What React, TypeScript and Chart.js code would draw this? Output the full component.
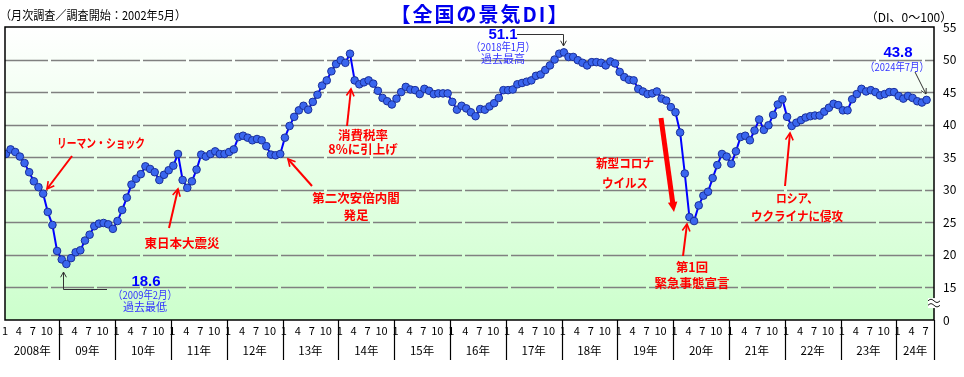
import React, { useEffect, useRef } from 'react';
import { Chart, registerables } from 'chart.js';

Chart.register(...registerables);

// ---- data (TDB 全国の景気DI, monthly, Jan 2008 – Jul 2024) ----
const di2008 = [35.5, 36.2, 35.8, 35.1, 34.1, 32.7, 31.3, 30.4, 29.4, 26.6, 24.6, 20.6];
const di2009 = [19.3, 18.6, 19.5, 20.4, 20.7, 22.2, 23.1, 24.4, 24.8, 24.9, 24.7, 24.0];
const di2010 = [25.2, 26.9, 28.8, 30.8, 31.7, 32.4, 33.6, 33.2, 32.7, 31.5, 32.3, 33.0];
const di2011 = [33.7, 35.5, 31.5, 30.3, 31.3, 33.1, 35.4, 35.1, 35.5, 35.9, 35.5, 35.5];
const di2012 = [35.8, 36.2, 38.1, 38.3, 38.0, 37.6, 37.8, 37.6, 36.7, 35.4, 35.3, 35.5];
const di2013 = [38.0, 39.8, 41.2, 42.2, 42.9, 42.3, 43.5, 44.6, 46.0, 46.8, 48.2, 49.3];
const di2014 = [49.9, 49.5, 50.9, 46.8, 46.2, 46.5, 46.8, 46.3, 45.2, 44.1, 43.6, 43.1];
const di2015 = [44.0, 45.0, 45.8, 45.4, 45.3, 44.7, 45.5, 45.2, 44.7, 44.8, 44.8, 44.8];
const di2016 = [43.5, 42.3, 42.9, 42.5, 41.9, 41.3, 42.4, 42.3, 42.8, 43.3, 44.1, 45.3];
const di2017 = [45.3, 45.4, 46.2, 46.4, 46.6, 46.8, 47.5, 47.7, 48.4, 49.1, 50.0, 50.9];
const di2018 = [51.1, 50.4, 50.4, 49.9, 49.5, 49.1, 49.6, 49.6, 49.5, 49.1, 49.7, 49.4];
const di2019 = [48.1, 47.3, 46.9, 46.8, 45.5, 45.1, 44.7, 44.8, 45.1, 44.0, 43.7, 42.7];
const di2020 = [41.9, 38.8, 32.5, 25.8, 25.2, 27.6, 29.1, 29.7, 31.8, 33.8, 35.5, 35.1];
const di2021 = [34.0, 35.9, 38.1, 38.3, 37.6, 39.1, 40.8, 39.2, 39.9, 41.5, 43.1, 43.9];
const di2022 = [41.2, 39.8, 40.3, 40.7, 41.1, 41.3, 41.4, 41.4, 42.0, 42.6, 43.2, 43.0];
const di2023 = [42.2, 42.2, 43.9, 44.7, 45.5, 45.1, 45.3, 45.0, 44.5, 44.7, 45.0, 45.0];
const di2024 = [44.4, 44.0, 44.4, 44.1, 43.6, 43.4, 43.8];

const yearLabels = ['2008年', '09年', '10年', '11年', '12年', '13年', '14年', '15年', '16年',
  '17年', '18年', '19年', '20年', '21年', '22年', '23年', '24年'];
const monthTickLabels = ['1', '4', '7', '10'];
const monthTickIndex = [0, 3, 6, 9];
const yTickValues = [10, 15, 20, 25, 30, 35, 40, 45, 50, 55];
const yTickLabels = ['0', '15', '20', '25', '30', '35', '40', '45', '50', '55'];
const gridValues = [15, 20, 25, 30, 35, 40, 45, 50];

const allValues = [
  ...di2008, ...di2009, ...di2010, ...di2011, ...di2012, ...di2013, ...di2014, ...di2015,
  ...di2016, ...di2017, ...di2018, ...di2019, ...di2020, ...di2021, ...di2022, ...di2023, ...di2024,
];

const JP = '"Noto Sans CJK JP", "Noto Sans", sans-serif';

function text(ctx: CanvasRenderingContext2D, s: string, cx: number, cy: number, font: string,
  color: string, maxW?: number, align: CanvasTextAlign = 'center', spacing = 0) {
  ctx.save();
  ctx.font = font;
  ctx.fillStyle = color;
  ctx.textAlign = align;
  ctx.textBaseline = 'middle';
  if (spacing) (ctx as any).letterSpacing = `${spacing}px`;
  if (maxW) ctx.fillText(s, cx, cy, maxW); else ctx.fillText(s, cx, cy);
  ctx.restore();
}

function arrow(ctx: CanvasRenderingContext2D, x1: number, y1: number, x2: number, y2: number,
  color: string, w: number, head: number, filled: boolean) {
  const a = Math.atan2(y2 - y1, x2 - x1);
  ctx.save();
  ctx.strokeStyle = color;
  ctx.fillStyle = color;
  ctx.lineWidth = w;
  ctx.beginPath();
  const ex = filled ? x2 - Math.cos(a) * head * 0.8 : x2;
  const ey = filled ? y2 - Math.sin(a) * head * 0.8 : y2;
  ctx.moveTo(x1, y1);
  ctx.lineTo(ex, ey);
  ctx.stroke();
  const s = filled ? 0.45 : 0.5;
  ctx.beginPath();
  ctx.moveTo(x2 - Math.cos(a - s) * head, y2 - Math.sin(a - s) * head);
  ctx.lineTo(x2, y2);
  ctx.lineTo(x2 - Math.cos(a + s) * head, y2 - Math.sin(a + s) * head);
  if (filled) { ctx.closePath(); ctx.fill(); } else { ctx.lineWidth = Math.max(1, w * 0.8); ctx.stroke(); }
  ctx.restore();
}

const decorPlugin = {
  id: 'decor',
  beforeDraw(chart: any) {
    const { ctx, chartArea: ca } = chart;
    ctx.save();
    ctx.fillStyle = '#ffffff';
    ctx.fillRect(0, 0, chart.width, chart.height);
    const g = ctx.createLinearGradient(0, ca.top, 0, ca.bottom);
    g.addColorStop(0, '#ffffff');
    g.addColorStop(1, '#ccffcc');
    ctx.fillStyle = g;
    ctx.fillRect(ca.left, ca.top, ca.right - ca.left, ca.bottom - ca.top);
    // dashed gridlines
    const ys = chart.scales.y;
    ctx.strokeStyle = '#808080';
    ctx.lineWidth = 1.3;
    ctx.setLineDash([43, 3]);
    gridValues.forEach((v) => {
      const y = Math.round(ys.getPixelForValue(v)) + 0.5;
      ctx.beginPath();
      ctx.moveTo(ca.left, y);
      ctx.lineTo(ca.right, y);
      ctx.stroke();
    });
    ctx.restore();
  },
  afterDatasetsDraw(chart: any) {
    const { ctx, chartArea: ca } = chart;
    const xs = chart.scales.x;
    const ys = chart.scales.y;
    ctx.save();
    // plot border
    ctx.strokeStyle = '#000';
    ctx.lineWidth = 1.5;
    ctx.strokeRect(ca.left, ca.top, ca.right - ca.left, ca.bottom - ca.top);

    // x axis: month labels, separators, years
    const nYears = yearLabels.length;
    const seps: number[] = [ca.left];
    for (let k = 1; k < nYears; k++) seps.push(xs.getPixelForValue(12 * k - 0.5));
    seps.push(ca.right);
    for (let k = 0; k < nYears; k++) {
      monthTickIndex.forEach((m, j) => {
        const idx = 12 * k + m;
        if (idx < allValues.length) {
          text(ctx, monthTickLabels[j], xs.getPixelForValue(idx) - 1, ca.bottom + 11,
            `11px ${JP}`, '#000');
        }
      });
      text(ctx, yearLabels[k], (seps[k] + seps[k + 1]) / 2, ca.bottom + 31, `11.5px ${JP}`, '#000');
    }
    ctx.strokeStyle = '#000';
    ctx.lineWidth = 1.2;
    for (let k = 1; k < seps.length; k++) {
      const x = Math.round(seps[k]) + 0.5;
      ctx.beginPath();
      ctx.moveTo(x, ca.bottom);
      ctx.lineTo(x, ca.bottom + 40);
      ctx.stroke();
    }

    // y axis labels (right)
    yTickValues.forEach((v, i) => {
      text(ctx, yTickLabels[i], ca.right + 9, ys.getPixelForValue(v), `12px ${JP}`, '#000', undefined, 'left');
    });

    // axis break symbol
    const by = ys.getPixelForValue(12.6);
    ctx.fillStyle = '#ffffff';
    ctx.fillRect(ca.right - 6, by - 5, 12, 10);
    ctx.strokeStyle = '#000';
    ctx.lineWidth = 0.9;
    [-2.2, 2.2].forEach((dy) => {
      ctx.beginPath();
      for (let t = 0; t <= 12; t++) {
        const px = ca.right - 6 + t;
        const py = by + dy + Math.sin((t / 12) * Math.PI * 2) * -1.6;
        if (t === 0) ctx.moveTo(px, py); else ctx.lineTo(px, py);
      }
      ctx.stroke();
    });

    // header texts
    text(ctx, '（月次調査／調査開始：2002年5月）', 93, 15, `12px ${JP}`, '#000', 186);
    text(ctx, '【全国の景気DI】', 480, 14, `bold 20px ${JP}`, '#0000ee', 198, 'center', 2);
    text(ctx, '（DI、0～100）', 909, 17, `12px ${JP}`, '#000', 94);

    // red annotations
    const R = '#ff0000';
    const rf = `bold 12.5px ${JP}`;
    text(ctx, 'リーマン・ショック', 101, 143, rf, R, 88);
    arrow(ctx, 72, 156, 47, 189, R, 2, 8, false);

    text(ctx, '東日本大震災', 182, 243, rf, R, 76);
    arrow(ctx, 169, 228, 178, 189, R, 2, 8, false);

    text(ctx, '第二次安倍内閣', 356, 198, rf, R, 88);
    text(ctx, '発足', 356, 215, rf, R);
    arrow(ctx, 312, 186, 288, 159, R, 2, 8, false);

    text(ctx, '消費税率', 363, 135, rf, R, 50);
    text(ctx, '8%に引上げ', 363, 149, rf, R, 70);
    arrow(ctx, 347, 126, 351, 89, R, 2, 8, false);

    text(ctx, '新型コロナ', 625, 163, rf, R, 58);
    text(ctx, 'ウイルス', 625, 183, rf, R, 46);
    arrow(ctx, 661, 118, 674, 212, R, 5, 11, true);

    text(ctx, '第1回', 692, 267, rf, R, 32);
    text(ctx, '緊急事態宣言', 692, 283, rf, R, 76);
    arrow(ctx, 683, 256, 687, 224, R, 2, 8, false);

    text(ctx, 'ロシア、', 797, 198, rf, R, 42);
    text(ctx, 'ウクライナに侵攻', 797, 216, rf, R, 92);
    arrow(ctx, 785, 186, 790, 133, R, 2, 8, false);

    // blue callouts
    const B = '#0000ff';
    const B2 = '#3333ff';
    const nf = `bold 15px "Liberation Sans", ${JP}`;
    const sf = `11px ${JP}`;
    // minimum
    text(ctx, '18.6', 146, 282, nf, B);
    text(ctx, '（2009年2月）', 145, 295, sf, B2, 64);
    text(ctx, '過去最低', 145, 307, sf, B2, 46);
    ctx.strokeStyle = '#333333';
    ctx.lineWidth = 1;
    ctx.beginPath();
    ctx.moveTo(63.5, 289.5);
    ctx.lineTo(107, 289.5);
    ctx.stroke();
    arrow(ctx, 63.5, 289.5, 63.5, 272, '#333333', 1, 6, false);
    // maximum
    text(ctx, '51.1', 503, 35, nf, B);
    text(ctx, '（2018年1月）', 503, 47, sf, B2, 64);
    text(ctx, '過去最高', 503, 59, sf, B2, 46);
    ctx.strokeStyle = '#333333';
    ctx.beginPath();
    ctx.moveTo(517, 34.5);
    ctx.lineTo(563.5, 34.5);
    ctx.stroke();
    arrow(ctx, 563.5, 34.5, 563.5, 46, '#333333', 1, 6, false);
    // latest
    text(ctx, '43.8', 898, 53, nf, B);
    text(ctx, '（2024年7月）', 897, 67, sf, B2, 64);
    arrow(ctx, 915, 72, 926, 94, '#333333', 1, 6, false);
    ctx.restore();
  },
};

export default function App() {
  const ref = useRef<HTMLCanvasElement | null>(null);
  useEffect(() => {
    if (!ref.current) return;
    const chart = new Chart(ref.current, {
      type: 'line',
      data: {
        datasets: [{
          label: '全国の景気DI',
          data: allValues.map((v, i) => ({ x: i, y: v })),
          borderColor: '#0000ff',
          borderWidth: 2,
          pointRadius: 3.8,
          pointBackgroundColor: '#3a66ee',
          pointBorderColor: '#1a2f9a',
          pointBorderWidth: 1,
          tension: 0,
        }],
      },
      options: {
        responsive: false,
        animation: false,
        devicePixelRatio: 1,
        layout: { padding: { left: 3, right: 30, top: 27, bottom: 57 } },
        plugins: { legend: { display: false }, tooltip: { enabled: false }, title: { display: false } },
        scales: {
          x: { type: 'linear', min: -0.2, max: 199.6, display: false },
          y: { type: 'linear', min: 10, max: 55, display: false },
        },
      },
      plugins: [decorPlugin],
    });
    return () => chart.destroy();
  }, []);
  return (
    <div style={{ position: 'absolute', left: 0, top: 0, width: 964, height: 377, background: '#fff' }}>
      <canvas ref={ref} width={964} height={377} />
    </div>
  );
}
